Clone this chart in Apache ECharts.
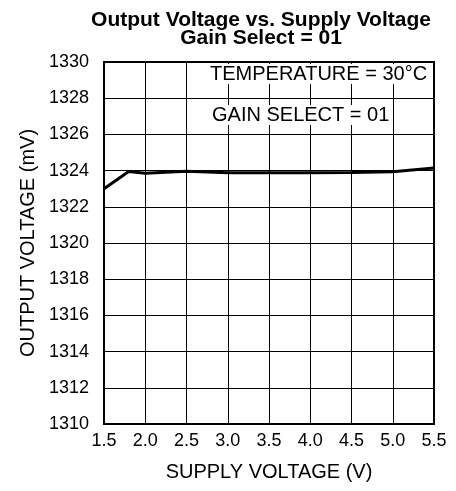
<!DOCTYPE html>
<html>
<head>
<meta charset="utf-8">
<script src="https://cdn.jsdelivr.net/npm/echarts@6/dist/echarts.min.js"></script>
<style>
  html, body { margin: 0; padding: 0; background: #fff; }
  #chart { width: 456px; height: 491px; }
</style>
</head>
<body>
<div id="chart"></div>
<script>
// supply voltage (V) and output voltage (mV)
var supplyV = [1.5, 1.8, 2.0, 2.5, 3.0, 3.5, 4.0, 4.5, 5.0, 5.5]
var outputMv = [1323.0, 1323.95, 1323.85, 1323.97, 1323.88, 1323.88, 1323.88, 1323.9, 1323.93, 1324.15]
var titleLines = ['Output Voltage vs. Supply Voltage', 'Gain Select = 01']
var notes = ['TEMPERATURE = 30°C', 'GAIN SELECT = 01']

var chart = echarts.init(document.getElementById('chart'))
var font = 'Liberation Sans, Arial, sans-serif'

chart.setOption({
  animation: false,
  title: {
    text: titleLines.join('\n'),
    left: 256,
    top: 6,
    textAlign: 'center',
    textStyle: {
      fontFamily: font,
      fontSize: 21,
      fontWeight: 'bold',
      color: '#000',
      lineHeight: 18
    }
  },
  grid: {
    left: 104,
    right: 22,
    top: 62,
    bottom: 67
  },
  xAxis: {
    type: 'value',
    min: 1.5,
    max: 5.5,
    interval: 0.5,
    name: 'SUPPLY VOLTAGE (V)',
    nameLocation: 'middle',
    nameGap: 38,
    nameTextStyle: { fontFamily: font, fontSize: 20, color: '#000' },
    axisLine: { lineStyle: { color: '#000', width: 2 } },
    axisTick: { show: false },
    axisLabel: {
      fontFamily: font, fontSize: 18, color: '#000', margin: 8,
      formatter: function (v) { return v.toFixed(1) }
    },
    splitLine: { lineStyle: { color: '#000', width: 1 } }
  },
  yAxis: {
    type: 'value',
    min: 1310,
    max: 1330,
    interval: 2,
    name: 'OUTPUT VOLTAGE (mV)',
    nameLocation: 'middle',
    nameGap: 66,
    nameTextStyle: { fontFamily: font, fontSize: 20, color: '#000' },
    axisLine: { show: true, lineStyle: { color: '#000', width: 2 } },
    axisTick: { show: false },
    axisLabel: {
      fontFamily: font, fontSize: 18, color: '#000', margin: 15,
      formatter: function (v) { return String(v) }
    },
    splitLine: { lineStyle: { color: '#000', width: 1 } }
  },
  graphic: [
    {
      type: 'rect',
      shape: { x: 104, y: 62, width: 330, height: 362 },
      style: { fill: 'none', stroke: '#000', lineWidth: 2 },
      z: 10
    },
    {
      type: 'text',
      x: 210,
      y: 74,
      style: {
        text: notes[0], font: '20px ' + font, fill: '#000',
        verticalAlign: 'middle', backgroundColor: '#fff'
      },
      z: 5
    },
    {
      type: 'text',
      x: 212,
      y: 115,
      style: {
        text: notes[1], font: '20px ' + font, fill: '#000',
        verticalAlign: 'middle', backgroundColor: '#fff'
      },
      z: 5
    }
  ],
  series: [
    {
      type: 'line',
      data: supplyV.map(function (x, i) { return [x, outputMv[i]] }),
      symbol: 'none',
      lineStyle: { color: '#000', width: 3 },
      z: 6
    }
  ]
})
</script>
</body>
</html>
